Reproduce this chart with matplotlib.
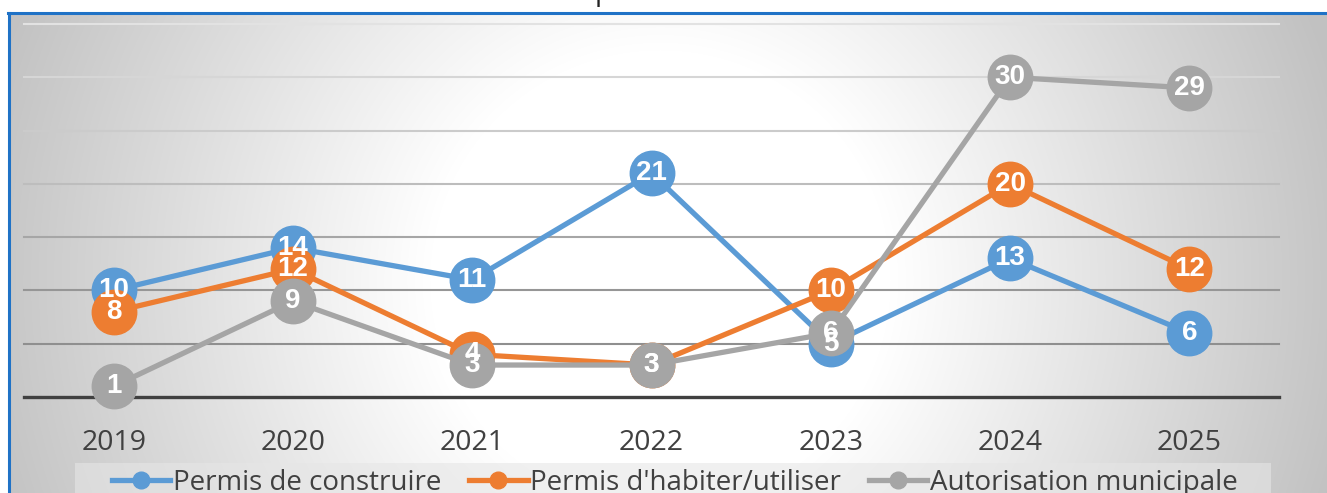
import numpy as np
import matplotlib
matplotlib.use("Agg")
import matplotlib.pyplot as plt
from matplotlib.lines import Line2D
from matplotlib.patches import Rectangle

years = ["2019", "2020", "2021", "2022", "2023", "2024", "2025"]
construire = [10, 14, 11, 21, 5, 13, 6]
habiter = [8, 12, 4, 3, 10, 20, 12]
municipale = [1, 9, 3, 3, 6, 30, 29]

series_names = ["Permis de construire", "Permis d'habiter/utiliser", "Autorisation municipale"]
series_values = [construire, habiter, municipale]
colors = ["#5B9BD5", "#ED7D31", "#A5A5A5"]

W, H = 1327, 493
plt.rcParams["font.family"] = ["Open Sans", "DejaVu Sans"]

fig = plt.figure(figsize=(W / 100, H / 100), dpi=100)
fig.patch.set_facecolor("white")

# radial gradient behind the chart area
bx0, by_top = 10, 12
bg = fig.add_axes([bx0 / W, 0, 1 - bx0 / W, (H - by_top) / H])
gx = np.arange(bx0, W)
gy = np.arange(by_top, H)
XX, YY = np.meshgrid(gx, gy)
r = np.sqrt((XX - 660) ** 2 + ((YY - 280) * 1.0) ** 2)
v = 1 - 0.24 * np.clip((r - 230) / 470, 0, 1)
bg.imshow(np.dstack([v, v, v]), aspect="auto", extent=[0, 1, 0, 1], origin="upper")
bg.axis("off")
bg.set_zorder(0)

# chart border (blue)
fig.add_artist(Line2D([8 / W, 1], [1 - 12.5 / H, 1 - 12.5 / H], color="#1F72C6", lw=2.2, zorder=1))
fig.add_artist(Line2D([9 / W, 9 / W], [0, 1 - 12.5 / H], color="#1F72C6", lw=2.2, zorder=1))

# cropped title descender at top
fig.text(603 / W, 1.0, "p", ha="center", va="baseline", fontsize=20, color="#222222")

# legend background box
fig.add_artist(Rectangle((75 / W, 0), (1271 - 75) / W, (H - 463) / H,
                         transform=fig.transFigure, facecolor="#e6e6e6", alpha=0.6,
                         edgecolor="none", zorder=1))

ax = fig.add_axes([24 / W, (H - 397) / H, (1279 - 24) / W, (397 - 24) / H])
ax.set_zorder(2)
ax.patch.set_alpha(0)
x = np.arange(len(years))
ax.set_xlim(-0.5, len(years) - 0.5)
ax.set_ylim(0, 35)

grid_colors = {5: "#8f8f8f", 10: "#969696", 15: "#a6a6a6", 20: "#bdbdbd",
               25: "#cbcbcb", 30: "#d6d6d6", 35: "#e2e2e2"}
for yv, c in grid_colors.items():
    ax.axhline(yv, color=c, lw=1.5, zorder=1, clip_on=False)
ax.axhline(0, color="#404040", lw=2.4, zorder=2, clip_on=False)

for i, (vals, col) in enumerate(zip(series_values, colors)):
    ax.plot(x, vals, color=col, lw=3.8, marker="o", markersize=32,
            markerfacecolor=col, markeredgecolor=col, zorder=3 + i, clip_on=False,
            solid_capstyle="round")
for vals in series_values:
    for xi, yi in zip(x, vals):
        ax.text(xi, yi, str(yi), ha="center", va="center", color="white",
                fontsize=20, fontweight="bold", zorder=10,
                family=["Liberation Sans", "DejaVu Sans"])

for s in ax.spines.values():
    s.set_visible(False)
ax.set_yticks([])
ax.set_xticks(x)
ax.set_xticklabels(years)
ax.tick_params(axis="x", length=0, pad=23, labelsize=20.5, labelcolor="#404040")

handles = [Line2D([], [], color=c, lw=3.8, marker="o", markersize=12) for c in colors]
leg = fig.legend(handles, series_names, loc="center", ncol=3,
                 bbox_to_anchor=(675 / W, 1 - 483 / H), frameon=False,
                 fontsize=20, handlelength=2.1, handletextpad=0.1,
                 columnspacing=1.0, labelcolor="#404040")
leg.set_zorder(5)

fig.savefig("out.png", dpi=100)
